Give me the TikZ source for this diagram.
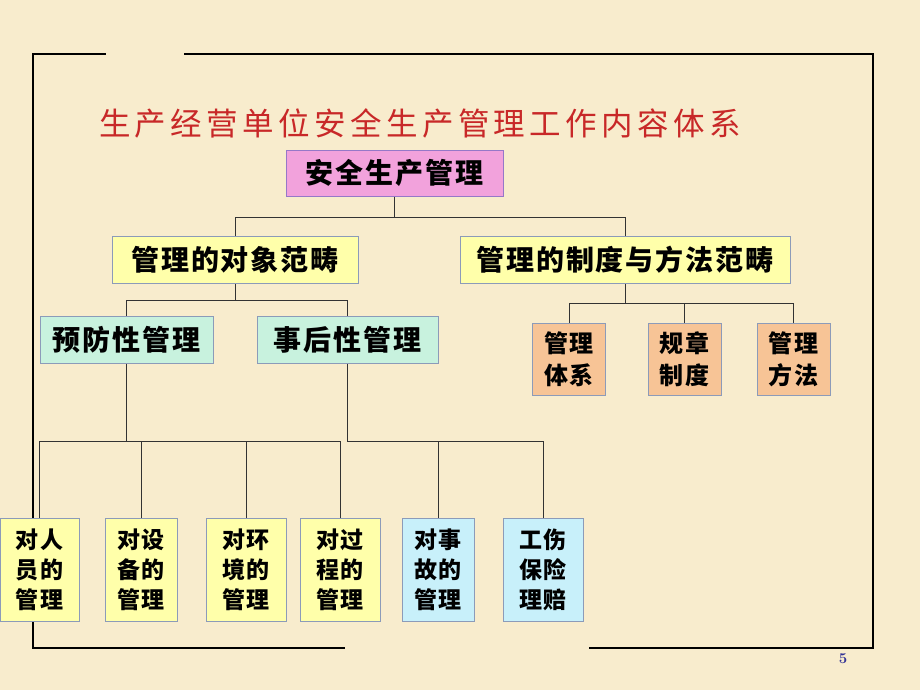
\documentclass[tikz,border=0pt]{standalone}
\usepackage{fontspec}
\usepackage{tikz}
\usepackage{xcolor}
\usetikzlibrary{positioning}
\newfontfamily\cjk[LetterSpace=7]{Noto Sans CJK SC}
\newfontfamily\cjktitle[LetterSpace=14]{Noto Sans CJK SC}

\definecolor{paper}{RGB}{248,236,205}
\definecolor{rosefill}{RGB}{242,162,220}
\definecolor{roseline}{RGB}{150,120,200}
\definecolor{lemonfill}{RGB}{255,255,170}
\definecolor{mintfill}{RGB}{200,242,222}
\definecolor{peachfill}{RGB}{247,196,150}
\definecolor{skyfill}{RGB}{200,240,250}
\definecolor{boxline}{RGB}{140,155,185}
\definecolor{titlered}{RGB}{200,40,40}
\definecolor{pagenum}{RGB}{50,50,150}

\tikzset{
    box/.style={draw=boxline, line width=1pt, inner sep=0pt, align=center,
        font=\cjk\bfseries\fontsize{28}{30}\selectfont},
    smallbox/.style={box, font=\cjk\bfseries\fontsize{23}{30}\selectfont},
    link/.style={line width=1pt, draw=black!80},
    frame/.style={line width=2.8pt, line cap=rect}
}

\begin{document}
\begin{tikzpicture}[x=1pt, y=-1pt]
            \fill[paper] (0,0) rectangle (920,690);
            \useasboundingbox (0,0) rectangle (920,690);

            % outer frame
            \draw[frame] (105,54) -- (33,54) -- (33,648) -- (344,648);
            \draw[frame] (185,54) -- (873,54) -- (873,648) -- (590,648);

            \node[font=\cjktitle\fontsize{31.5}{33}\selectfont, text=titlered] (title) at (420,123) {生产经营单位安全生产管理工作内容体系};

            \node[box, fill=rosefill, draw=roseline, minimum width=217, minimum height=46] (root) at (394.5,173) {安全生产管理};

            \node[box, fill=lemonfill, minimum width=246, minimum height=47] (obj) at (235,260) {管理的对象范畴};
            \node[box, fill=lemonfill, minimum width=330, minimum height=47] (sys) at (625,260) {管理的制度与方法范畴};

            \node[box, fill=mintfill, minimum width=173, minimum height=47] (pre) at (126.5,339.5) {预防性管理};
            \node[box, fill=mintfill, minimum width=181, minimum height=47] (post) at (347.5,339.5) {事后性管理};

            \node[smallbox, fill=peachfill, minimum width=73, minimum height=72, font=\cjk\bfseries\fontsize{24}{32}\selectfont] (m1) at (569,359) {管理\\体系};
            \node[smallbox, fill=peachfill, minimum width=73, minimum height=72, font=\cjk\bfseries\fontsize{24}{32}\selectfont] (m2) at (684.5,359) {规章\\制度};
            \node[smallbox, fill=peachfill, minimum width=73, minimum height=72, font=\cjk\bfseries\fontsize{24}{32}\selectfont] (m3) at (793.5,359) {管理\\方法};

            \node[smallbox, fill=lemonfill, minimum width=79, minimum height=103] (b1) at (39.5,569.5) {对人\\员的\\管理};
            \node[smallbox, fill=lemonfill, minimum width=72, minimum height=103] (b2) at (141,569.5) {对设\\备的\\管理};
            \node[smallbox, fill=lemonfill, minimum width=80, minimum height=103] (b3) at (246,569.5) {对环\\境的\\管理};
            \node[smallbox, fill=lemonfill, minimum width=80, minimum height=103] (b4) at (340,569.5) {对过\\程的\\管理};
            \node[smallbox, fill=skyfill, minimum width=72, minimum height=103] (b5) at (438,569.5) {对事\\故的\\管理};
            \node[smallbox, fill=skyfill, minimum width=80, minimum height=103] (b6) at (543,569.5) {工伤\\保险\\理赔};

            \node[text=pagenum, font=\bfseries\fontsize{15}{16}\selectfont] (page) at (843,659) {5};

            % connectors
            \draw[link] (root.south) -- ++(0,21) coordinate (j1);
            \draw[link] (j1) -| (obj.north);
            \draw[link] (j1) -| (sys.north);

            \draw[link] (obj.south) -- ++(0,16.5) coordinate (j2);
            \draw[link] (j2) -| (pre.north);
            \draw[link] (j2) -| (post.north);

            \draw[link] (sys.south) -- ++(0,19.5) coordinate (j3);
            \draw[link] (j3) -| (m1.north);
            \draw[link] (j3) -| (m2.north);
            \draw[link] (j3) -| (m3.north);

            \draw[link] (pre.south) -- ++(0,78) coordinate (j4);
            \foreach \b in {b1, b2, b3, b4}
                \draw[link] (j4) -| (\b.north);

            \draw[link] (post.south) -- ++(0,78) coordinate (j5);
            \foreach \b in {b5, b6}
                \draw[link] (j5) -| (\b.north);
        \end{tikzpicture}
\end{document}
